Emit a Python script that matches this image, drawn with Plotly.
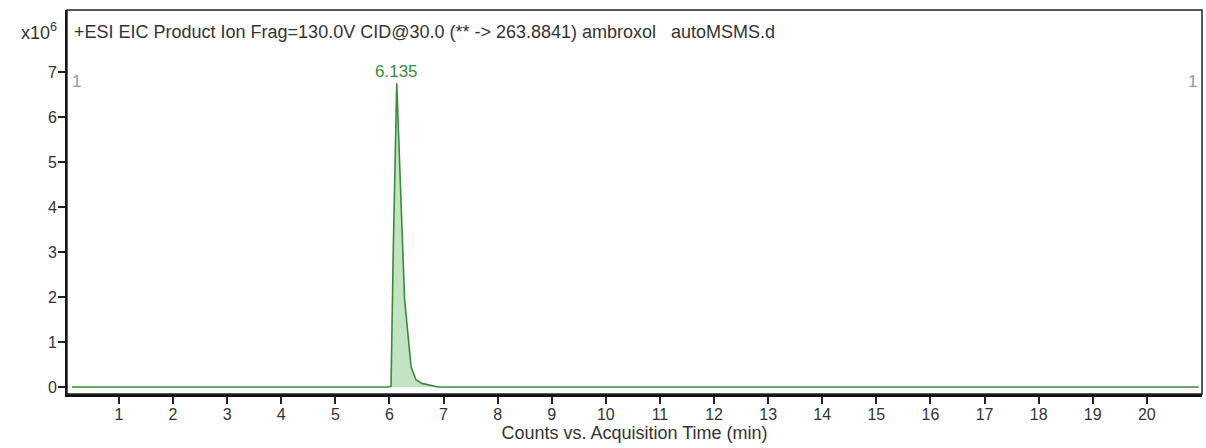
import plotly.graph_objects as go

# Data (retention time in min, intensity in x10^6 counts)
time_min = [0.13, 5.98, 6.03, 6.07, 6.135, 6.19, 6.28, 6.40, 6.49, 6.60, 6.74, 6.90, 20.96]
counts_e6 = [0.0, 0.0, 0.02, 3.0, 6.75, 4.82, 1.95, 0.45, 0.16, 0.08, 0.04, 0.0, 0.0]
peak_rt = 6.135
peak_height = 6.75
x_ticks = list(range(1, 21))
y_ticks = list(range(0, 8))

FONT = "Liberation Sans, Arial, sans-serif"
TXT = "#333333"
GREEN = "#3b8a3b"

fig = go.Figure()
fig.add_trace(go.Scatter(
    x=time_min, y=counts_e6, mode="lines",
    line=dict(color=GREEN, width=1.6),
    fill="tozeroy", fillcolor="rgba(120,195,120,0.45)",
    hoverinfo="skip", showlegend=False))

fig.add_annotation(x=peak_rt, y=peak_height, text=f"{peak_rt:.3f}", showarrow=False,
                   yanchor="bottom", yshift=0, font=dict(size=17, color=GREEN, family=FONT))

fig.add_annotation(xref="paper", yref="paper", x=0.004, y=0.943, xanchor="left", yanchor="middle",
                   text="+ESI EIC Product Ion Frag=130.0V CID@30.0 (** -> 263.8841) ambroxol   autoMSMS.d",
                   showarrow=False, font=dict(size=18, color=TXT, family=FONT))
fig.add_annotation(xref="paper", yref="paper", x=-0.007, y=0.943, xanchor="right", yanchor="middle",
                   text="x10<sup>6</sup>", showarrow=False, font=dict(size=18, color=TXT, family=FONT))
fig.add_annotation(xref="paper", yref="paper", x=0.003, y=0.815, xanchor="left", yanchor="middle",
                   text="1", showarrow=False, font=dict(size=17, color="#999999", family=FONT))
fig.add_annotation(xref="paper", yref="paper", x=0.997, y=0.815, xanchor="right", yanchor="middle",
                   text="1", showarrow=False, font=dict(size=17, color="#999999", family=FONT))

fig.add_shape(type="rect", xref="paper", yref="paper", x0=0, y0=0, x1=1, y1=1,
              line=dict(color="#222222", width=1.5))

fig.update_layout(
    width=1206, height=448,
    margin=dict(l=67, r=4, t=10, b=54),
    paper_bgcolor="white", plot_bgcolor="white",
    font=dict(family=FONT, size=16, color=TXT),
    xaxis=dict(range=[0.04, 21.02], tickvals=x_ticks, ticks="outside", ticklen=7, tickwidth=1.5,
               tickcolor="#222222", showline=True, linecolor="#111111", linewidth=3,
               showgrid=False, zeroline=False, ticklabelstandoff=-3,
               title=dict(text="Counts vs. Acquisition Time (min)", standoff=0, font=dict(size=18))),
    yaxis=dict(range=[-0.156, 8.38], tickvals=y_ticks, ticks="outside", ticklen=7, tickwidth=1.5,
               tickcolor="#222222", showline=True, linecolor="#111111", linewidth=2,
               showgrid=False, zeroline=False, ticklabelstandoff=-2),
)

fig.write_html("out.html")
